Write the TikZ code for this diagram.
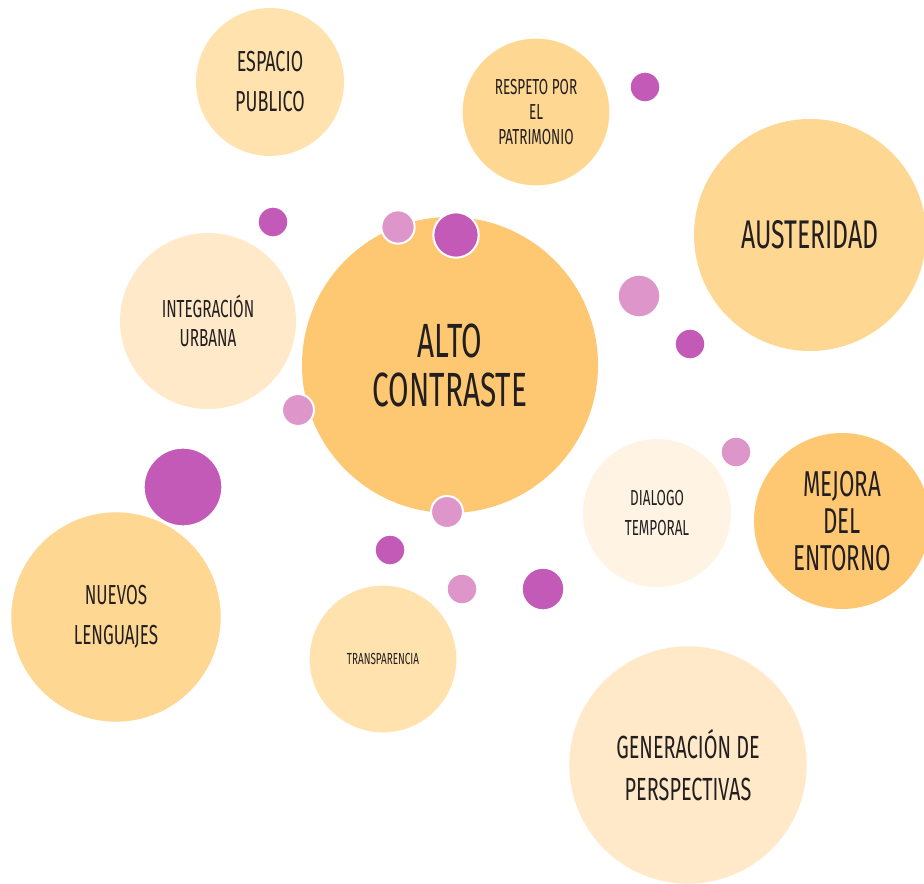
\documentclass[tikz,border=0pt]{standalone}
\usepackage{fontspec}
\setmainfont[FakeStretch=0.62]{Fira Sans}
\usepackage{tikz}

\definecolor{ink}{HTML}{231F20}
\definecolor{naranja}{HTML}{FEC872}
\definecolor{melocoton}{HTML}{FED792}
\definecolor{crema}{HTML}{FFE2AE}
\definecolor{marfil}{HTML}{FFE9C8}
\definecolor{hueso}{HTML}{FFF3E3}
\definecolor{magenta}{HTML}{C45AB8}
\definecolor{rosa}{HTML}{DD95CA}

\tikzset{
  bubble/.style={circle, fill=#1, inner sep=0pt, text=ink, align=center},
  dot/.style={circle, fill=#1, draw=white, line width=1.5pt, inner sep=0pt},
}

\newcommand{\tam}[2]{\fontsize{#1}{#2}\selectfont}

\begin{document}
\begin{tikzpicture}[x=0.75pt,y=-0.75pt]
        \useasboundingbox[fill=white] (0,0) rectangle (924,884);

        % burbujas
        \node[bubble=crema, minimum size=111pt, font=\tam{21.7}{30}] (espacio) at (270,82)
          {ESPACIO\\PUBLICO};
        \node[bubble=melocoton, minimum size=110pt, font=\tam{16.3}{18.4}] (respeto) at (536,112)
          {RESPETO POR\\EL\\PATRIMONIO};
        \node[bubble=melocoton, minimum size=174pt, font=\tam{30}{32}] (austeridad) at (810,235)
          {AUSTERIDAD};
        \node[bubble=marfil, minimum size=132pt, font=\tam{18.5}{22}] (integracion) at (208,321)
          {INTEGRACIÓN\\URBANA};
        \node[bubble=naranja, minimum size=222pt, font=\tam{36}{36.75}] (alto) at (450,365)
          {ALTO\\CONTRASTE};
        \node[bubble=hueso, minimum size=111pt, font=\tam{16.3}{23}] (dialogo) at (657,513)
          {DIALOGO\\TEMPORAL};
        \node[bubble=naranja, minimum size=132pt, font=\tam{27}{28}] (mejora) at (842,521)
          {MEJORA\\DEL\\ENTORNO};
        \node[bubble=melocoton, minimum size=157pt, font=\tam{20.6}{30}] (nuevos) at (116,617)
          {NUEVOS\\LENGUAJES};
        \node[bubble=crema, minimum size=110pt, font=\tam{12}{14}] (transparencia) at (383,659)
          {TRANSPARENCIA};
        \node[bubble=marfil, minimum size=178pt, font=\tam{24}{31}] (generacion) at (688,765)
          {GENERACIÓN DE\\PERSPECTIVAS};

        % puntos
        \node[dot=magenta, minimum size=23pt] (p1) at (645,87) {};
        \node[dot=magenta, minimum size=23pt] (p2) at (273,222) {};
        \node[dot=rosa, minimum size=25pt] (p3) at (398,227) {};
        \node[dot=magenta, minimum size=34pt] (p4) at (456,235) {};
        \node[dot=rosa, minimum size=32pt] (p5) at (639,296) {};
        \node[dot=magenta, minimum size=23pt] (p6) at (690,344) {};
        \node[dot=rosa, minimum size=24pt] (p7) at (298,410) {};
        \node[dot=rosa, minimum size=23pt] (p8) at (736,452) {};
        \node[dot=magenta, minimum size=59pt] (p9) at (183,487) {};
        \node[dot=rosa, minimum size=24pt] (p10) at (447,512) {};
        \node[dot=magenta, minimum size=23pt] (p11) at (390,550) {};
        \node[dot=rosa, minimum size=23pt] (p12) at (462,589) {};
        \node[dot=magenta, minimum size=32pt] (p13) at (543,589) {};
    \end{tikzpicture}
\end{document}
